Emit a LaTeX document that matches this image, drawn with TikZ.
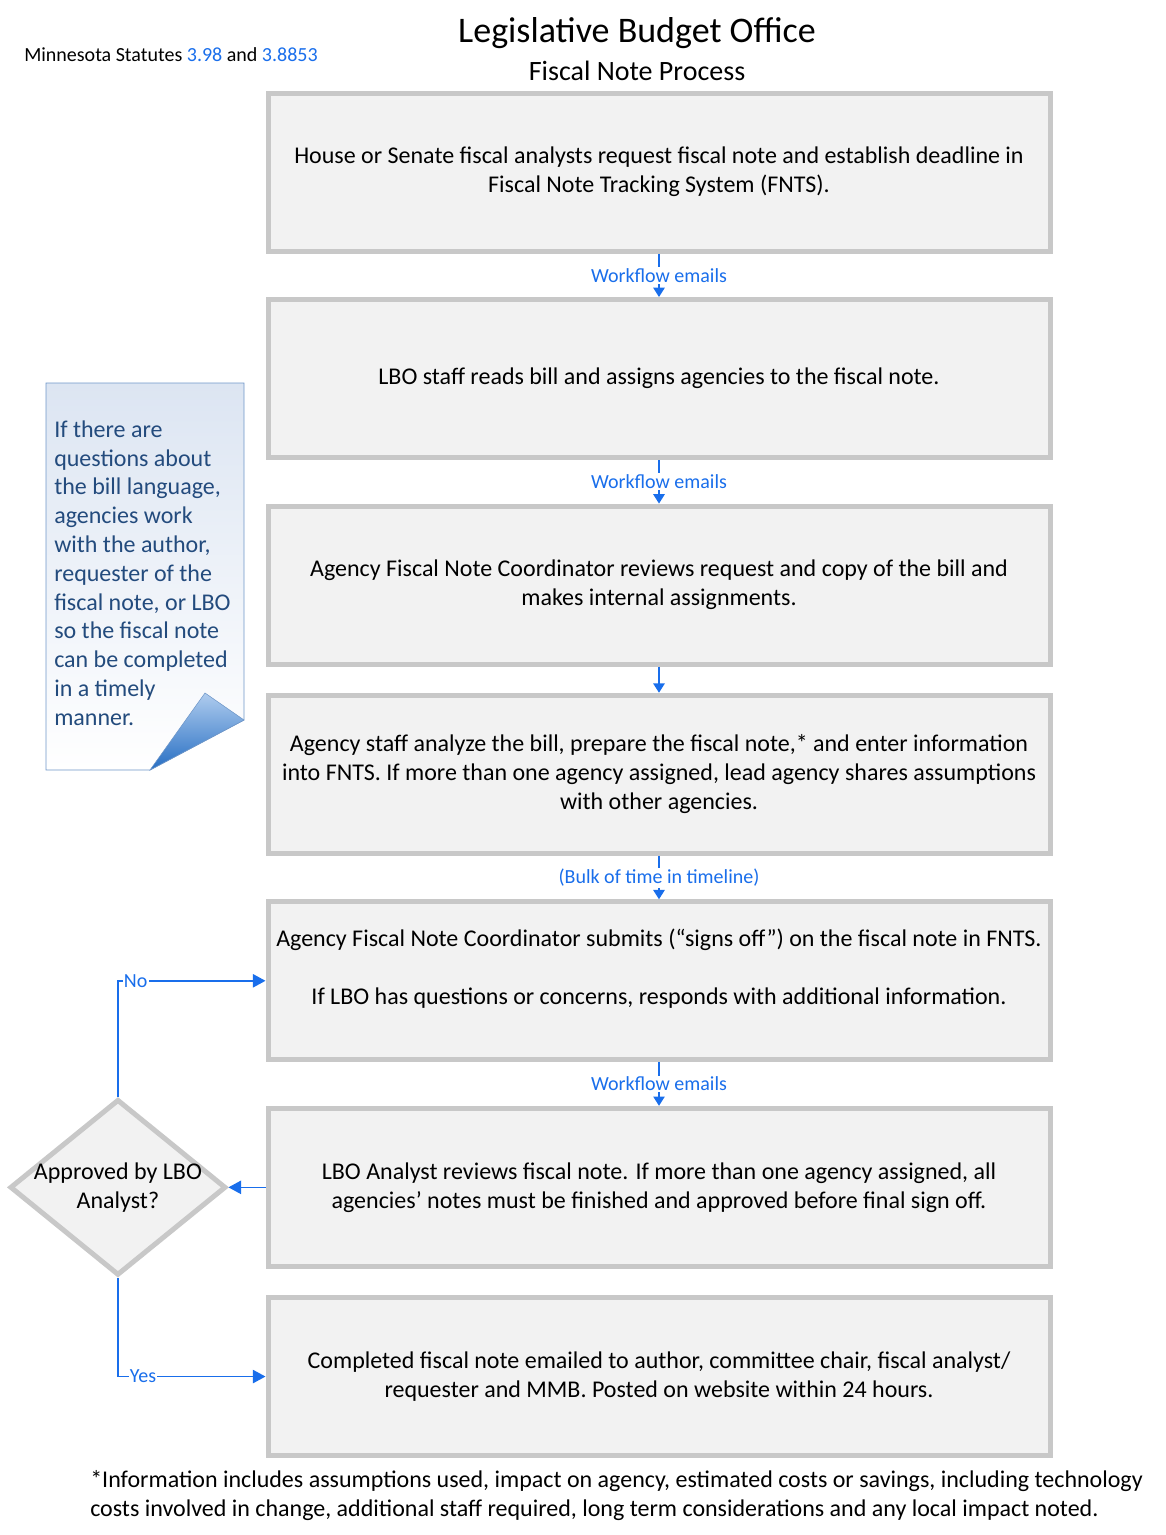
\documentclass[tikz,border=0pt]{standalone}
\usepackage{fontspec}
\setmainfont{Carlito}
\usepackage{xcolor}
\usepackage{tikz}
\usetikzlibrary{shapes.geometric, arrows.meta}
\definecolor{boxline}{RGB}{200,200,200}
\definecolor{boxfill}{RGB}{242,242,242}
\definecolor{flowblue}{RGB}{25,110,235}
\definecolor{notetext}{RGB}{35,75,125}
\definecolor{noteline}{RGB}{110,150,200}
\definecolor{notetop}{RGB}{220,229,242}
\definecolor{foldlight}{RGB}{175,204,238}
\definecolor{folddark}{RGB}{38,110,195}
\tikzstyle{block} = [rectangle, minimum width=586.5pt, minimum height=118.5pt, align=center, draw=boxline, line width=3.75pt, fill=boxfill, font=\fontsize{18pt}{21.75pt}\selectfont]
\tikzstyle{choix} = [diamond, minimum width=162pt, minimum height=132pt, inner sep=0pt, draw=boxline, line width=3.75pt, fill=boxfill]
\tikzstyle{arrow} = [line width=1.2pt, draw=flowblue, -{Triangle[length=7pt,width=8.5pt]}]
\tikzstyle{sidearrow} = [line width=1.2pt, draw=flowblue, -{Triangle[length=9.5pt,width=10pt]}]
\tikzstyle{flowlabel} = [fill=white, text=flowblue, inner sep=1pt, font=\fontsize{15pt}{18pt}\selectfont]

\begin{document}
\begin{tikzpicture}[x=0.75pt, y=-0.75pt, node distance=154.9pt]
	\useasboundingbox (0,0) rectangle (1165,1535);
	\node (title) [font=\fontsize{27pt}{32pt}\selectfont] at (637,33) {Legislative Budget Office};
	\node (subtitle) [font=\fontsize{21pt}{25pt}\selectfont] at (637,71) {Fiscal Note Process};
	\node (statutes) [anchor=west, inner sep=0pt, font=\fontsize{15pt}{18pt}\selectfont] at (24,55) {Minnesota Statutes \textcolor{flowblue}{3.98} and \textcolor{flowblue}{3.8853}};

	\node (blo1) [block] at (659,172) {House or Senate fiscal analysts request fiscal note and establish deadline in\\Fiscal Note Tracking System (FNTS).};
	\node (blo2) [block, below of=blo1] {LBO staff reads bill and assigns agencies to the fiscal note.};
	\node (blo3) [block, below of=blo2] {Agency Fiscal Note Coordinator reviews request and copy of the bill and\\makes internal assignments.};
	\node (blo4) [block, below of=blo3, yshift=+13pt] {Agency staff analyze the bill, prepare the fiscal note,* and enter information\\into FNTS. If more than one agency assigned, lead agency shares assumptions\\with other agencies.};
	\node (blo5) [block, below of=blo4] {Agency Fiscal Note Coordinator submits (\textquotedblleft signs off\textquotedblright) on the fiscal note in FNTS.\\[21.75pt]If LBO has questions or concerns, responds with additional information.\\\mbox{}};
	\node (blo6) [block, below of=blo5] {LBO Analyst reviews fiscal note. If more than one agency assigned, all\\agencies\textquoteright\ notes must be finished and approved before final sign off.};
	\node (blo7) [block, below of=blo6, yshift=+13pt] {Completed fiscal note emailed to author, committee chair, fiscal analyst/\\requester and MMB. Posted on website within 24 hours.};
	\node (dec1) [choix, left of=blo6, xshift=-250.9pt] {};
	\node (dec1txt) [align=center, font=\fontsize{18pt}{21.75pt}\selectfont] at (dec1) {Approved by LBO\\Analyst?};

	\shade [top color=notetop, middle color=white, bottom color=white, draw=noteline, line width=0.6pt] (46,383) -- (244,383) -- (244,720) -- (150,770) -- (46,770) -- cycle;
	\shade [top color=foldlight, bottom color=folddark, draw=noteline, line width=0.4pt] (150,770) -- (205,693) -- (244,720) -- cycle;
	\node (note) [anchor=west, align=left, inner sep=0pt, text=notetext, font=\fontsize{18pt}{21.6pt}\selectfont] at (54,573) {If there are\\questions about\\the bill language,\\agencies work\\with the author,\\requester of the\\fiscal note, or LBO\\so the fiscal note\\can be completed\\in a timely\\manner.};

	\node (foot) [anchor=west, align=left, inner sep=0pt, font=\fontsize{18pt}{21.75pt}\selectfont] at (90,1496) {*Information includes assumptions used, impact on agency, estimated costs or savings, including technology\\costs involved in change, additional staff required, long term considerations and any local impact noted.};

	\draw [arrow] (blo1) -- node[flowlabel] {Workflow emails} (blo2);
	\draw [arrow] (blo2) -- node[flowlabel] {Workflow emails} (blo3);
	\draw [arrow] (blo3) -- (blo4);
	\draw [arrow] (blo4) -- node[flowlabel] {(Bulk of time in timeline)} (blo5);
	\draw [arrow] (blo5) -- node[flowlabel] {Workflow emails} (blo6);
	\draw [sidearrow] (blo6) -- (dec1);
	\draw [sidearrow] (dec1.north) |- node[flowlabel, pos=0.56] {No} (blo5.west);
	\draw [sidearrow] (dec1.south) |- node[flowlabel, pos=0.585] {Yes} (blo7.west);
\end{tikzpicture}
\end{document}
